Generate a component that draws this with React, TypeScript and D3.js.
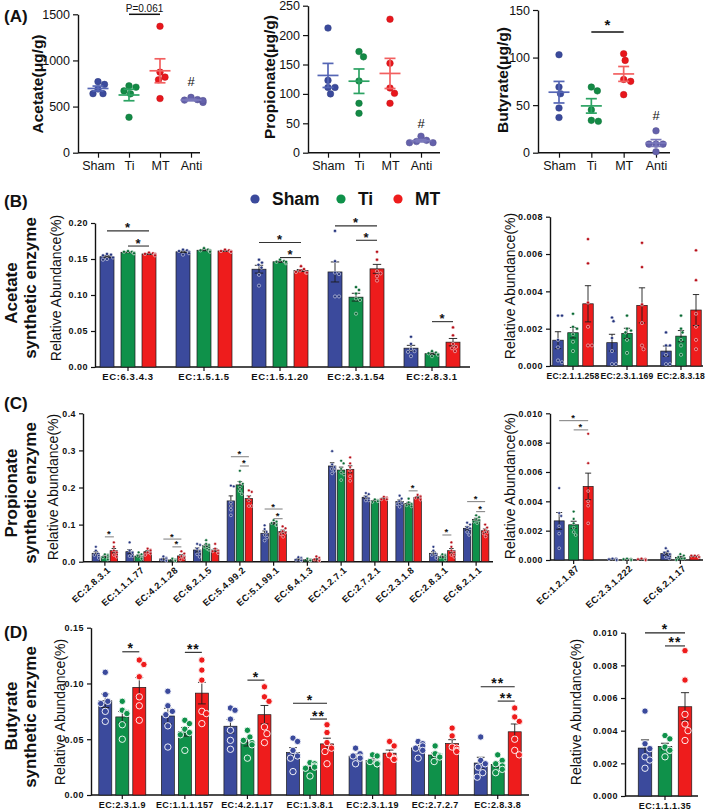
import React, { useEffect, useRef } from 'react';
import * as d3 from 'd3';

const FONT = "'Liberation Sans', Arial, sans-serif";

// panel A: SCFA content, n = 5 per group
const groupsA = ['Sham', 'Ti', 'MT', 'Anti'];
const acetate = [[770, 690, 740, 640, 640], [725, 710, 670, 638, 384], [1370, 873, 790, 819, 587], [600, 575, 545, 570, 565]];
const propionate = [[212, 123, 111, 111, 100], [172, 163, 122, 84, 67], [227, 152, 101, 110, 84], [28, 17, 21, 17, 19]];
const butyrate = [[103, 69, 62, 47, 37], [69, 65, 45, 33, 34], [104, 97, 77, 75, 61], [23, 9, 9, 9, 1]];
const hashLevels = [770, 50, 39];
const aBrackets = [
  { plot: 0, a: 1, b: 2, v: 1500, t: 'P=0.061' },
  { plot: 2, a: 1, b: 2, v: 127, t: '*' },
];

const seriesNames = ['Sham', 'Ti', 'MT'];

// panel B: acetate synthetic enzymes, n = 6
const bGroups = ['EC:6.3.4.3', 'EC:1.5.1.5', 'EC:1.5.1.20', 'EC:2.3.1.54', 'EC:2.8.3.1'];
const bSham = [
  [0.157, 0.156, 0.155, 0.152, 0.150, 0.149],
  [0.163, 0.162, 0.161, 0.160, 0.158, 0.156],
  [0.149, 0.145, 0.142, 0.138, 0.128, 0.113],
  [0.189, 0.147, 0.131, 0.129, 0.098, 0.098],
  [0.042, 0.032, 0.025, 0.022, 0.021, 0.015],
];
const bTi = [
  [0.161, 0.160, 0.160, 0.159, 0.158, 0.158],
  [0.165, 0.163, 0.162, 0.162, 0.161, 0.160],
  [0.149, 0.147, 0.146, 0.145, 0.144, 0.146],
  [0.111, 0.107, 0.102, 0.095, 0.093, 0.074],
  [0.022, 0.020, 0.019, 0.018, 0.017, 0.015],
];
const bMT = [
  [0.159, 0.158, 0.157, 0.157, 0.156, 0.155],
  [0.163, 0.162, 0.161, 0.161, 0.160, 0.160],
  [0.140, 0.136, 0.134, 0.132, 0.131, 0.131],
  [0.160, 0.149, 0.133, 0.130, 0.126, 0.120],
  [0.055, 0.044, 0.032, 0.028, 0.026, 0.022],
];
const bBrackets = [[0, 0, 2, 0.189, '*'], [0, 1, 2, 0.168, '*'], [2, 0, 2, 0.173, '*'], [2, 1, 2, 0.152, '*'], [3, 0, 2, 0.196, '*'], [3, 1, 2, 0.176, '*'], [4, 1, 2, 0.063, '*']];

const b2Groups = ['EC:2.1.1.258', 'EC:2.3.1.169', 'EC:2.8.3.18'];
const b2Sham = [[0.0027, 0.0027, 0.0014, 0.0010, 0.0003, 0.0002], [0.0026, 0.0024, 0.0015, 0.0008, 0.0001, 0.0001], [0.0018, 0.0011, 0.0011, 0.0006, 0.0001, 0.0001]];
const b2Ti = [[0.0028, 0.0021, 0.0020, 0.0017, 0.0013, 0.0008], [0.0027, 0.0020, 0.0019, 0.0018, 0.0014, 0.0007], [0.0027, 0.0020, 0.0018, 0.0014, 0.0011, 0.0006]];
const b2MT = [[0.0068, 0.0055, 0.0034, 0.0021, 0.0011, 0.0011], [0.0066, 0.0053, 0.0033, 0.0023, 0.0011, 0.0009], [0.0062, 0.0046, 0.0028, 0.0021, 0.0014, 0.0009]];

// panel C: propionate synthetic enzymes
const cGroups = ['EC:2.8.3.1', 'EC:1.1.1.77', 'EC:4.2.1.28', 'EC:6.2.1.5', 'EC:5.4.99.2', 'EC:5.1.99.1', 'EC:6.4.1.3', 'EC:1.2.7.1', 'EC:2.7.2.1', 'EC:2.3.1.8', 'EC:2.8.3.1', 'EC:6.2.1.1'];
const cSham = [
  [0.040, 0.030, 0.022, 0.018, 0.016, 0.010],
  [0.052, 0.030, 0.026, 0.024, 0.015, 0.015],
  [0.014, 0.010, 0.008, 0.006, 0.004, 0.002],
  [0.048, 0.045, 0.035, 0.028, 0.020, 0.013],
  [0.205, 0.203, 0.160, 0.150, 0.140, 0.125],
  [0.098, 0.088, 0.080, 0.072, 0.065, 0.057],
  [0.012, 0.010, 0.006, 0.005, 0.003, 0.003],
  [0.298, 0.262, 0.255, 0.250, 0.245, 0.238],
  [0.185, 0.182, 0.175, 0.170, 0.165, 0.165],
  [0.178, 0.170, 0.163, 0.158, 0.155, 0.148],
  [0.040, 0.030, 0.022, 0.018, 0.016, 0.010],
  [0.105, 0.100, 0.093, 0.090, 0.080, 0.072],
];
const cTi = [
  [0.020, 0.018, 0.015, 0.012, 0.010, 0.006],
  [0.025, 0.020, 0.016, 0.013, 0.010, 0.008],
  [0.008, 0.006, 0.005, 0.004, 0.003, 0.002],
  [0.058, 0.048, 0.045, 0.040, 0.035, 0.032],
  [0.245, 0.215, 0.210, 0.200, 0.190, 0.182],
  [0.112, 0.108, 0.104, 0.100, 0.098, 0.099],
  [0.008, 0.006, 0.005, 0.004, 0.004, 0.003],
  [0.272, 0.265, 0.250, 0.240, 0.235, 0.220],
  [0.168, 0.166, 0.165, 0.164, 0.163, 0.161],
  [0.170, 0.160, 0.156, 0.155, 0.152, 0.149],
  [0.020, 0.018, 0.015, 0.012, 0.010, 0.006],
  [0.125, 0.120, 0.115, 0.112, 0.108, 0.104],
];
const cMT = [
  [0.052, 0.040, 0.030, 0.025, 0.018, 0.013],
  [0.035, 0.032, 0.030, 0.025, 0.022, 0.018],
  [0.028, 0.022, 0.015, 0.012, 0.010, 0.006],
  [0.048, 0.035, 0.030, 0.028, 0.025, 0.023],
  [0.192, 0.188, 0.175, 0.165, 0.150, 0.150],
  [0.095, 0.090, 0.082, 0.078, 0.074, 0.067],
  [0.014, 0.010, 0.006, 0.004, 0.003, 0.002],
  [0.281, 0.265, 0.255, 0.245, 0.230, 0.218],
  [0.175, 0.173, 0.172, 0.170, 0.168, 0.168],
  [0.180, 0.177, 0.175, 0.172, 0.170, 0.167],
  [0.052, 0.040, 0.030, 0.025, 0.018, 0.013],
  [0.100, 0.092, 0.085, 0.080, 0.076, 0.068],
];
const cBrackets = [[0, 1, 2, 0.067, '*'], [2, 0, 2, 0.061, '*'], [2, 1, 2, 0.040, '*'], [4, 0, 2, 0.283, '*'], [4, 1, 2, 0.258, '*'], [5, 0, 2, 0.142, '*'], [5, 1, 2, 0.116, '*'], [9, 1, 2, 0.191, '*'], [10, 1, 2, 0.072, '*'], [11, 0, 2, 0.162, '*'], [11, 1, 2, 0.135, '*']];

const c2Groups = ['EC:1.2.1.87', 'EC:2.3.1.222', 'EC:6.2.1.17'];
const c2Sham = [[0.0049, 0.0032, 0.0030, 0.0023, 0.0018, 0.0008], [0.0001, 0.0001, 0.00005, 0.00005, 0, 0], [0.0008, 0.0006, 0.0005, 0.0004, 0.0002, 0.0001]];
const c2Ti = [[0.0033, 0.0028, 0.0025, 0.0022, 0.0019, 0.0017], [0.0001, 0.00005, 0.00005, 0.00005, 0, 0], [0.0004, 0.0003, 0.0002, 0.0001, 0.0001, 0]];
const c2MT = [[0.0086, 0.0066, 0.0047, 0.0040, 0.0037, 0.0025], [0.0001, 0.00005, 0.00005, 0.00005, 0, 0], [0.0003, 0.0003, 0.0003, 0.0002, 0.0002, 0.0002]];
const c2Brackets = [[0, 0, 2, 0.0095, '*'], [0, 1, 2, 0.00887, '*']];

// panel D: butyrate synthetic enzymes
const dGroups = ['EC:2.3.1.9', 'EC:1.1.1.157', 'EC:4.2.1.17', 'EC:1.3.8.1', 'EC:2.3.1.19', 'EC:2.7.2.7', 'EC:2.8.3.8'];
const dSham = [
  [0.110, 0.090, 0.084, 0.082, 0.075, 0.066],
  [0.093, 0.080, 0.075, 0.072, 0.062, 0.043],
  [0.078, 0.076, 0.068, 0.058, 0.049, 0.041],
  [0.051, 0.048, 0.040, 0.035, 0.033, 0.021],
  [0.042, 0.037, 0.035, 0.034, 0.033, 0.028],
  [0.048, 0.046, 0.044, 0.042, 0.040, 0.033],
  [0.052, 0.031, 0.028, 0.025, 0.020, 0.016],
];
const dTi = [
  [0.084, 0.076, 0.074, 0.073, 0.063, 0.050],
  [0.067, 0.064, 0.059, 0.056, 0.054, 0.040],
  [0.058, 0.052, 0.049, 0.047, 0.045, 0.033],
  [0.029, 0.028, 0.026, 0.025, 0.024, 0.017],
  [0.036, 0.035, 0.030, 0.029, 0.028, 0.028],
  [0.044, 0.037, 0.035, 0.035, 0.034, 0.030],
  [0.036, 0.031, 0.028, 0.026, 0.023, 0.020],
];
const dMT = [
  [0.121, 0.117, 0.106, 0.088, 0.080, 0.067],
  [0.121, 0.112, 0.103, 0.075, 0.073, 0.064],
  [0.097, 0.088, 0.084, 0.061, 0.055, 0.047],
  [0.063, 0.056, 0.047, 0.042, 0.039, 0.028],
  [0.048, 0.044, 0.036, 0.033, 0.032, 0.032],
  [0.060, 0.053, 0.043, 0.042, 0.040, 0.039],
  [0.078, 0.070, 0.066, 0.050, 0.040, 0.036],
];
const dBrackets = [[0, 1, 2, 0.1284, '*'], [1, 1, 2, 0.1279, '**'], [2, 1, 2, 0.103, '*'], [3, 0, 2, 0.0822, '*'], [3, 1, 2, 0.0681, '**'], [6, 0, 2, 0.097, '**'], [6, 1, 2, 0.0842, '**']];

const d2Groups = ['EC:1.1.1.35'];
const d2Sham = [[0.0052, 0.0032, 0.0029, 0.0024, 0.0022, 0.0017]];
const d2Ti = [[0.0037, 0.0035, 0.0030, 0.0028, 0.0028, 0.0024]];
const d2MT = [[0.0089, 0.0071, 0.0050, 0.0044, 0.0040, 0.0034]];
const d2Brackets = [[0, 0, 2, 0.00999, '*'], [0, 1, 2, 0.00919, '**']];

const BAR = ['#3b4a9c', '#0f914a', '#ee1c1c'];
const DOT = ['#26357e', '#0a6a34', '#b8101a'];
const A_DOT = ['#3b4a9c', '#138a45', '#e8161c', '#6461ab'];
const A_LINE = ['#5566b5', '#2ca363', '#f26060', '#7a78bb'];

function meanSe(v) {
  const m = d3.mean(v);
  const se = d3.deviation(v) / Math.sqrt(v.length);
  return [m, se];
}

// simple beeswarm: horizontal offsets so that dots do not overlap
function swarm(vals, y, dist, maxOff) {
  const placed = [];
  const out = vals.map(() => 0);
  const order = d3.range(vals.length).sort((a, b) => vals[b] - vals[a]);
  for (const i of order) {
    const py = y(vals[i]);
    let pick = 0;
    for (let k = 0; k < 400; k++) {
      const c = (k % 2 === 1 ? 1 : -1) * Math.ceil(k / 2) * 0.5;
      if (Math.abs(c) > maxOff) { pick = c > 0 ? maxOff : -maxOff; break; }
      if (placed.every(q => Math.hypot(q.x - c, q.y - py) >= dist)) { pick = c; break; }
    }
    placed.push({ x: pick, y: py });
    out[i] = pick;
  }
  return out;
}

function styleAxis(a, size, bold, spacing) {
  a.attr('font-family', FONT).attr('font-size', size);
  a.selectAll('text').attr('fill', '#111').attr('font-weight', bold ? 'bold' : 'normal').attr('letter-spacing', spacing);
  a.selectAll('line').attr('stroke', '#111').attr('stroke-width', 1.2);
  a.select('.domain').attr('stroke', '#111').attr('stroke-width', 1.4);
}

function vText(g, text, x, y, size, weight) {
  g.append('text')
    .attr('transform', `translate(${x},${y}) rotate(-90)`)
    .attr('text-anchor', 'middle')
    .attr('dominant-baseline', 'central')
    .attr('font-family', FONT)
    .attr('font-size', size)
    .attr('font-weight', weight)
    .attr('fill', '#111')
    .text(text);
}

function scatter(root, L, data, hashV, yLabel, brackets) {
  const g = root.append('g');
  const x = d3.scalePoint().domain(groupsA).range(L.cats);
  const y = d3.scaleLinear().domain([0, L.yMax]).range([L.yBot, L.yTop]);

  const ya = g.append('g').attr('transform', `translate(${L.axisX},0)`)
    .call(d3.axisLeft(y).tickValues(L.ticks).tickFormat(d3.format('d')).tickSize(5).tickSizeOuter(0));
  styleAxis(ya, 12.5, false, 0);
  const xa = g.append('g').attr('transform', `translate(0,${L.yBot})`)
    .call(d3.axisBottom(x).tickSize(5).tickSizeOuter(0));
  xa.select('.domain').remove();
  styleAxis(xa, 12.5, false, 0);
  xa.selectAll('text').attr('y', 17.5).attr('dy', 0);
  g.append('line').attr('x1', L.axisX).attr('x2', L.xEnd).attr('y1', L.yBot).attr('y2', L.yBot)
    .attr('stroke', '#111').attr('stroke-width', 1.4);

  data.forEach((vals, i) => {
    const cx = x(groupsA[i]);
    const offs = swarm(vals, y, 6.8, 12);
    g.append('g').selectAll('circle').data(vals).join('circle')
      .attr('cx', (d, k) => cx + offs[k]).attr('cy', d => y(d)).attr('r', 3.3)
      .attr('fill', A_DOT[i]).attr('stroke', d3.color(A_DOT[i]).darker(0.5)).attr('stroke-width', 0.5);
    const [m, se] = meanSe(vals);
    const ln = g.append('g').attr('stroke', A_LINE[i]).attr('stroke-width', 1.7);
    ln.append('line').attr('x1', cx - 10.5).attr('x2', cx + 10.5).attr('y1', y(m)).attr('y2', y(m));
    ln.append('line').attr('x1', cx).attr('x2', cx).attr('y1', y(m - se)).attr('y2', y(m + se));
    [m - se, m + se].forEach(v => ln.append('line').attr('x1', cx - 5.5).attr('x2', cx + 5.5).attr('y1', y(v)).attr('y2', y(v)));
  });

  g.append('text').attr('x', x('Anti')).attr('y', y(hashV)).attr('text-anchor', 'middle')
    .attr('dominant-baseline', 'central').attr('font-family', FONT).attr('font-size', 13).attr('fill', '#111').text('#');

  brackets.forEach(b => {
    const x1 = x(groupsA[b.a]), x2 = x(groupsA[b.b]), yy = y(b.v);
    g.append('line').attr('x1', x1).attr('x2', x2).attr('y1', yy).attr('y2', yy).attr('stroke', '#111').attr('stroke-width', 1.5);
    const isP = b.t.length > 2;
    g.append('text').attr('x', (x1 + x2) / 2).attr('y', isP ? yy - 2.6 : yy - 2)
      .attr('text-anchor', 'middle').attr('font-family', FONT).attr('font-size', isP ? 10 : 15)
      .attr('font-weight', isP ? 'normal' : 'bold').attr('fill', '#111').text(b.t);
  });

  vText(g, yLabel, L.labelX, L.labelY, 15.5, 'bold');
}

function barPanel(root, P, groups, series, brackets) {
  const g = root.append('g');
  const idx = d3.range(groups.length);
  const x = d3.scaleBand().domain(idx).range(P.band);
  const y = d3.scaleLinear().domain([0, P.yMax]).range([P.yBot, P.yTop]);

  const ya = g.append('g').attr('transform', `translate(${P.axisX},0)`)
    .call(d3.axisLeft(y).tickValues(P.ticks).tickFormat(d3.format(P.fmt)).tickSize(4).tickSizeOuter(0));
  styleAxis(ya, P.tickFont, true, 0.5);

  const xa = g.append('g').attr('transform', `translate(0,${P.yBot})`)
    .call(d3.axisBottom(x).tickFormat(i => groups[i]).tickSize(4).tickSizeOuter(0));
  xa.select('.domain').remove();
  styleAxis(xa, P.xFont, true, P.xSpacing);
  if (P.rotate) {
    xa.selectAll('text').attr('y', 0).attr('x', 0).attr('dy', '0.35em')
      .attr('transform', 'translate(4,7) rotate(-42)').attr('text-anchor', 'end');
  } else {
    xa.selectAll('text').attr('y', 13).attr('dy', 0);
  }
  g.append('line').attr('x1', P.axisX).attr('x2', P.xEnd).attr('y1', P.yBot).attr('y2', P.yBot)
    .attr('stroke', '#111').attr('stroke-width', 1.4);

  const cxOf = (gi, si) => x(gi) + x.bandwidth() / 2 + (si - 1) * P.gap;

  idx.forEach(gi => {
    series.forEach((ser, si) => {
      const vals = ser[gi];
      const [m, se] = meanSe(vals);
      const cx = cxOf(gi, si);
      g.append('rect').attr('x', cx - P.barW / 2).attr('y', y(m)).attr('width', P.barW)
        .attr('height', P.yBot - y(m)).attr('fill', BAR[si]).attr('stroke', '#1b1b1b').attr('stroke-width', 0.7);
      const e = g.append('g').attr('stroke', '#1b1b1b').attr('stroke-width', 0.9);
      e.append('line').attr('x1', cx).attr('x2', cx).attr('y1', y(Math.max(0, m - se))).attr('y2', y(m + se));
      [Math.max(0, m - se), m + se].forEach(v => e.append('line')
        .attr('x1', cx - P.barW * 0.3).attr('x2', cx + P.barW * 0.3).attr('y1', y(v)).attr('y2', y(v)));
      const offs = swarm(vals, y, P.r * 2 + P.sep, P.barW / 2 - P.r * 0.6);
      g.append('g').selectAll('circle').data(vals).join('circle')
        .attr('cx', (d, k) => cx + offs[k]).attr('cy', d => y(d)).attr('r', P.r)
        .attr('fill', P.bright ? BAR[si] : DOT[si]).attr('stroke', '#fff').attr('stroke-width', P.r > 2 ? 0.9 : 0.5);
    });
  });

  brackets.forEach(([gi, a, b, v, t]) => {
    const x1 = cxOf(gi, a), x2 = cxOf(gi, b), yy = y(v);
    g.append('line').attr('x1', x1).attr('x2', x2).attr('y1', yy).attr('y2', yy)
      .attr('stroke', P.brColor).attr('stroke-width', 1.1);
    g.append('text').attr('x', (x1 + x2) / 2).attr('y', yy + P.starDy).attr('text-anchor', 'middle')
      .attr('font-family', FONT).attr('font-size', P.starFont).attr('font-weight', 'bold')
      .attr('letter-spacing', 1).attr('fill', '#111').text(t);
  });

  vText(g, 'Relative Abundance(%)', P.labelX, P.labelY, 14, 'normal');
}

function draw(svg) {
  // panel A
  scatter(svg, { axisX: 78, xEnd: 200, cats: [98, 191], yTop: 14.3, yBot: 152.7, yMax: 1500, ticks: [0, 500, 1000, 1500], labelX: 37, labelY: 84 },
    acetate, hashLevels[0], 'Acetate(μg/g)', aBrackets.filter(b => b.plot === 0));
  scatter(svg, { axisX: 308, xEnd: 440, cats: [328, 421], yTop: 5.7, yBot: 152.7, yMax: 250, ticks: [0, 50, 100, 150, 200, 250], labelX: 269, labelY: 77 },
    propionate, hashLevels[1], 'Propionate(μg/g)', aBrackets.filter(b => b.plot === 1));
  scatter(svg, { axisX: 538, xEnd: 670, cats: [559, 656], yTop: 10, yBot: 152.7, yMax: 150, ticks: [0, 50, 100, 150], labelX: 502, labelY: 80 },
    butyrate, hashLevels[2], 'Butyrate(μg/g)', aBrackets.filter(b => b.plot === 2));

  // panel letters and row titles
  [['(A)', 22], ['(B)', 207], ['(C)', 409], ['(D)', 638]].forEach(([t, yy]) => {
    svg.append('text').attr('x', 4).attr('y', yy).attr('font-family', FONT).attr('font-size', 17)
      .attr('font-weight', 'bold').attr('fill', '#111').text(t);
  });
  [['Acetate', 293, 288], ['Propionate', 493, 493], ['Butyrate', 716, 717]].forEach(([t, y1, y2]) => {
    vText(svg, t, 11, y1, 17, 'bold');
    vText(svg, 'synthetic enzyme', 30, y2, 17, 'bold');
  });

  // legend
  const lg = svg.append('g');
  [[255, 272], [341, 358], [398, 415]].forEach(([cx, tx], i) => {
    lg.append('circle').attr('cx', cx).attr('cy', 199).attr('r', 4.6).attr('fill', BAR[i]);
    lg.append('text').attr('x', tx).attr('y', 199).attr('dominant-baseline', 'central')
      .attr('font-family', FONT).attr('font-size', 17.5).attr('font-weight', 'bold').attr('fill', '#111').text(seriesNames[i]);
  });

  const small = { r: 1.6, sep: 0.8, bright: false, brColor: '#333', starFont: 13, starDy: 1.5, tickFont: 9, xFont: 9.5, xSpacing: 0.6, rotate: false };
  barPanel(svg, { ...small, axisX: 95, xEnd: 470, band: [90, 470], yTop: 223, yBot: 367, yMax: 0.2, ticks: [0, 0.05, 0.1, 0.15, 0.2], fmt: '.2f', barW: 14, gap: 21, labelX: 56, labelY: 288 },
    bGroups, [bSham, bTi, bMT], bBrackets);
  barPanel(svg, { ...small, axisX: 550, xEnd: 703, band: [546, 708], yTop: 216.7, yBot: 366, yMax: 0.008, ticks: [0, 0.002, 0.004, 0.006, 0.008], fmt: '.3f', barW: 10.5, gap: 15, xFont: 8.6, xSpacing: 0.2, labelX: 510, labelY: 286 },
    b2Groups, [b2Sham, b2Ti, b2MT], []);

  const rot = { ...small, r: 1.4, sep: 0.6, brColor: '#888', starFont: 9.5, starDy: 0.5, tickFont: 8.8, xFont: 9.2, xSpacing: 0.4, rotate: true };
  barPanel(svg, { ...rot, axisX: 83, xEnd: 493, band: [88, 493], yTop: 413.3, yBot: 561.7, yMax: 0.4, ticks: [0, 0.1, 0.2, 0.3, 0.4], fmt: '.1f', barW: 7.5, gap: 9, labelX: 53, labelY: 487 },
    cGroups, [cSham, cTi, cMT], cBrackets);
  barPanel(svg, { ...rot, axisX: 550, xEnd: 703, band: [547, 707], yTop: 413.3, yBot: 560, yMax: 0.01, ticks: [0, 0.002, 0.004, 0.006, 0.008, 0.01], fmt: '.3f', barW: 10, gap: 14.5, labelX: 510, labelY: 486 },
    c2Groups, [c2Sham, c2Ti, c2MT], c2Brackets);

  const big = { r: 3.2, sep: 0.6, bright: true, brColor: '#222', starFont: 14, starDy: 1.5, tickFont: 9, xFont: 9, xSpacing: 0.4, rotate: false };
  barPanel(svg, { ...big, axisX: 91, xEnd: 529, band: [91, 529], yTop: 627.7, yBot: 795, yMax: 0.15, ticks: [0, 0.05, 0.1, 0.15], fmt: '.2f', barW: 13, gap: 17, labelX: 60, labelY: 712 },
    dGroups, [dSham, dTi, dMT], dBrackets);
  barPanel(svg, { ...big, axisX: 625, xEnd: 698, band: [625, 705], yTop: 632.7, yBot: 796, yMax: 0.01, ticks: [0, 0.002, 0.004, 0.006, 0.008, 0.01], fmt: '.3f', barW: 13.5, gap: 20, labelX: 576, labelY: 712 },
    d2Groups, [d2Sham, d2Ti, d2MT], d2Brackets);
}

export default function App() {
  const ref = useRef(null);
  useEffect(() => {
    const svg = d3.select(ref.current);
    svg.selectAll('*').remove();
    draw(svg);
  }, []);
  return (
    <svg ref={ref} width={708} height={811}
      style={{ position: 'absolute', left: 0, top: 0, background: '#fff' }} />
  );
}
